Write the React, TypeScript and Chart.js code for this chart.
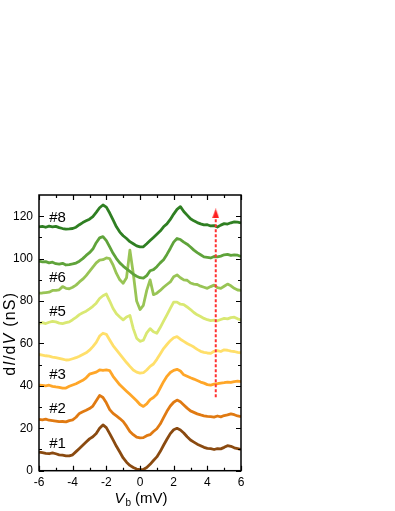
import React, { useEffect, useRef } from 'react';
import { Chart, registerables } from 'chart.js';

Chart.register(...registerables);

// Bias voltage (mV)
const biasMV = [
  -6, -5.8, -5.6, -5.4, -5.2, -5, -4.8, -4.6, -4.4, -4.2,
  -4, -3.8, -3.6, -3.4, -3.2, -3, -2.8, -2.6, -2.4, -2.2,
  -2, -1.8, -1.6, -1.4, -1.2, -1, -0.8, -0.6, -0.4, -0.2,
  0, 0.2, 0.4, 0.6, 0.8, 1, 1.2, 1.4, 1.6, 1.8,
  2, 2.2, 2.4, 2.6, 2.8, 3, 3.2, 3.4, 3.6, 3.8,
  4, 4.2, 4.4, 4.6, 4.8, 5, 5.2, 5.4, 5.6, 5.8,
  6,
];

// dI/dV (nS), curves #1..#8 (offset as in the figure)
const curve1 = [
  8.8, 8.5, 8.2, 8.0, 8.4, 8.0, 7.5, 7.3, 7.0, 7.0,
  7.5, 9.0, 10.5, 12.0, 13.5, 15.0, 16.0, 17.5, 20.0, 21.6,
  20.3, 17.5, 14.5, 11.5, 8.8, 6.0, 4.0, 2.5, 1.5, 0.8,
  0.5, 0.6, 1.5, 3.0, 4.8, 6.5, 9.0, 12.0, 14.8, 17.5,
  19.3, 20.0, 19.2, 17.8, 16.0, 14.5, 13.5, 12.5, 11.8, 11.0,
  10.5, 10.4, 10.0, 10.4, 10.3, 11.0, 11.8, 11.5, 10.8, 10.4,
  10.0,
];
const curve2 = [
  24.2, 24.0, 24.3, 23.8, 23.6, 23.4, 23.1, 23.2, 23.0, 23.6,
  24.0, 25.2, 27.0, 27.8, 28.5, 29.3, 30.5, 33.0, 35.5, 34.5,
  32.0, 28.8, 27.0, 25.8, 24.6, 23.2, 21.0, 18.5, 17.0, 15.8,
  15.5, 15.6, 16.5, 17.0, 18.5, 19.8, 22.0, 25.0, 28.0, 30.5,
  32.3, 33.3, 32.5, 31.0, 29.5, 28.2, 27.5, 26.8, 26.3, 25.9,
  25.6, 25.5, 25.3, 25.8, 25.4, 26.0, 26.3, 26.8, 26.4, 25.8,
  25.5,
];
const curve3 = [
  40.4, 40.2, 40.0, 40.3, 39.8, 39.5, 39.3, 38.9, 39.0, 39.8,
  40.4, 41.0, 41.8, 42.6, 43.8, 45.5, 46.0, 46.5, 47.5, 47.3,
  47.5, 47.2, 44.5, 42.5, 40.5, 39.0, 37.5, 36.0, 34.5, 33.0,
  31.2, 30.3, 31.5, 33.5, 34.5, 36.0, 39.0, 42.0, 44.5, 46.3,
  47.3, 47.8, 47.0, 45.2, 44.5, 43.8, 43.2, 42.5, 41.8, 41.3,
  40.6, 40.4, 40.8, 41.0, 41.3, 41.5, 41.8, 41.6, 42.0, 42.2,
  42.0,
];
const curve4 = [
  54.8, 54.5, 54.2, 54.0, 53.6, 53.3, 53.0, 52.6, 52.2, 52.3,
  52.8, 53.3, 54.0, 54.8, 55.6, 56.8, 58.5, 60.5, 63.5, 64.8,
  64.3, 61.6, 59.0, 57.0, 55.0, 53.0, 51.0, 49.2, 47.5, 46.5,
  46.0, 46.2, 47.5, 49.2, 50.3, 52.5, 55.0, 57.6, 59.5, 61.3,
  62.7, 63.2, 62.0, 61.0, 60.0, 59.2, 58.3, 57.2, 56.3, 55.8,
  55.5, 55.3, 56.3, 56.6, 56.2, 57.0, 56.8, 56.4, 56.2, 55.8,
  55.6,
];
const curve5 = [
  69.5, 69.8, 69.4, 70.0, 70.4, 70.2, 69.6, 69.4, 69.8, 70.2,
  71.2, 72.3, 73.6, 74.5, 75.2, 76.3, 77.5, 79.0, 81.2, 82.5,
  83.3, 80.0, 76.5, 74.0, 72.5, 71.1, 72.5, 73.2, 67.0, 62.5,
  61.0, 61.5, 65.0, 67.0, 65.5, 64.8, 67.5, 70.5, 73.5, 76.5,
  79.5, 79.5, 78.5, 78.3, 77.2, 76.0, 74.6, 73.5, 72.7, 71.8,
  71.2, 70.8, 71.0, 70.7, 71.3, 71.8, 71.6, 72.2, 72.4, 71.6,
  71.1,
];
const curve6 = [
  83.7, 83.8, 84.0, 84.2, 85.0, 85.0, 85.3, 86.8, 86.0, 85.8,
  86.5, 87.5, 89.0, 90.3, 92.0, 94.0, 96.0, 98.0, 99.3, 99.5,
  100.3, 100.0, 97.0, 93.0, 90.0, 88.4, 91.0, 104.0, 93.0, 80.0,
  76.0, 78.0, 85.0, 90.0, 83.0, 83.7, 85.0, 86.5, 87.8, 89.0,
  91.5, 92.3, 91.0, 90.0, 89.8, 88.5, 88.0, 87.8, 87.0, 86.5,
  86.0, 86.8, 87.5, 86.3, 86.0, 87.0, 88.0, 87.2, 86.0, 85.2,
  85.0,
];
const curve7 = [
  98.8, 98.5, 98.6, 98.0, 98.3, 97.6, 97.4, 97.8, 97.0, 97.2,
  97.5, 97.9, 98.8, 100.0, 101.5, 102.8, 104.5, 107.5, 109.8, 110.4,
  108.5, 105.5, 102.5, 100.0, 98.0, 96.5, 95.2, 94.0, 92.7, 91.7,
  91.0, 90.8, 92.0, 94.3, 94.8, 96.2, 98.0, 99.5, 102.0, 104.8,
  107.8, 109.5, 109.0, 107.8, 106.8, 105.5, 104.0, 102.8, 101.8, 100.8,
  100.6, 100.3, 101.0, 100.8, 101.2, 101.8, 102.0, 101.5, 101.8, 101.6,
  101.0,
];
const curve8 = [
  115.0, 115.2, 114.8, 115.3, 115.0, 115.2, 114.6, 114.2, 113.9, 114.0,
  114.2, 114.8, 116.0, 117.0, 117.8, 118.6, 119.8, 121.8, 124.0, 125.3,
  124.3, 121.5, 118.3, 115.0, 112.5, 110.8, 109.5, 108.0, 107.0, 106.0,
  105.5, 105.6, 107.0, 108.5, 110.0, 111.5, 113.0, 115.0, 116.4, 118.5,
  121.0, 123.2, 124.5, 122.2, 120.5, 118.8, 117.8, 117.0, 116.4, 115.9,
  116.0, 115.4, 115.6, 114.9, 115.8, 116.5, 116.3, 116.9, 117.3, 117.2,
  116.8,
];

const curves = [curve1, curve2, curve3, curve4, curve5, curve6, curve7, curve8];
const curveColors = ['#8a4a10', '#e07a12', '#ffa628', '#ffdf6a', '#d9e872', '#98c455', '#5fa33a', '#2f7f22'];

// Curve labels
const labelTexts = ['#1', '#2', '#3', '#5', '#6', '#8'];
const labelYs = [12.6, 29.1, 45.3, 74.9, 90.7, 119.2];
const labelX = -4.9;

// Ticks
const xMajorTicks = [-6, -4, -2, 0, 2, 4, 6];
const xMinorTicks = [-5, -3, -1, 1, 3, 5];
const yMajorTicks = [0, 20, 40, 60, 80, 100, 120];
const yMinorTicks = [10, 30, 50, 70, 90, 110];

// Red marker at 4.5 mV
const markerX = [4.5, 4.5];
const markerY = [34.6, 119.3];
const arrowHead = { x: 4.5, y: 121.3 };

const FONT = '"Liberation Sans", Arial, sans-serif';

const decorPlugin = {
  id: 'decor',
  afterDatasetsDraw(chart: any) {
    const { ctx, chartArea: a, scales } = chart;
    const xs = scales.x;
    const ys = scales.y;
    ctx.save();
    ctx.strokeStyle = '#000';
    ctx.lineWidth = 1.5;
    ctx.strokeRect(a.left, a.top, a.right - a.left, a.bottom - a.top);
    ctx.lineWidth = 1.2;
    const drawX = (v: number, len: number) => {
      const px = Math.round(xs.getPixelForValue(v)) + 0.5;
      ctx.beginPath();
      ctx.moveTo(px, a.bottom);
      ctx.lineTo(px, a.bottom - len);
      ctx.moveTo(px, a.top);
      ctx.lineTo(px, a.top + len);
      ctx.stroke();
    };
    const drawY = (v: number, len: number) => {
      const py = Math.round(ys.getPixelForValue(v)) + 0.5;
      ctx.beginPath();
      ctx.moveTo(a.left, py);
      ctx.lineTo(a.left + len, py);
      ctx.moveTo(a.right, py);
      ctx.lineTo(a.right - len, py);
      ctx.stroke();
    };
    xMajorTicks.forEach((v) => drawX(v, 5));
    xMinorTicks.forEach((v) => drawX(v, 3));
    yMajorTicks.forEach((v) => drawY(v, 5));
    yMinorTicks.forEach((v) => drawY(v, 3));

    // curve labels
    ctx.fillStyle = '#000';
    ctx.font = `15px ${FONT}`;
    ctx.textAlign = 'center';
    ctx.textBaseline = 'middle';
    labelTexts.forEach((t, i) => {
      ctx.fillText(t, xs.getPixelForValue(labelX), ys.getPixelForValue(labelYs[i]));
    });

    // y axis title (rotated)
    const ySize = 16;
    const yParts = [
      { t: 'd', f: `${ySize}px ${FONT}` },
      { t: 'I', f: `italic ${ySize}px ${FONT}` },
      { t: '/d', f: `${ySize}px ${FONT}` },
      { t: 'V', f: `italic ${ySize}px ${FONT}` },
      { t: ' (nS)', f: `${ySize}px ${FONT}` },
    ];
    ctx.save();
    (ctx as any).letterSpacing = '1.2px';
    let total = 0;
    yParts.forEach((p) => { ctx.font = p.f; total += ctx.measureText(p.t).width; });
    ctx.translate(15, (a.top + a.bottom) / 2 + 1);
    ctx.rotate(-Math.PI / 2);
    ctx.textAlign = 'left';
    ctx.textBaseline = 'alphabetic';
    let cx = -total / 2;
    yParts.forEach((p) => { ctx.font = p.f; ctx.fillText(p.t, cx, 0); cx += ctx.measureText(p.t).width; });
    ctx.restore();

    // x axis title
    ctx.textAlign = 'left';
    ctx.textBaseline = 'alphabetic';
    const base = 503;
    ctx.font = `italic 15px ${FONT}`;
    const wV = ctx.measureText('V').width;
    ctx.font = `10px ${FONT}`;
    const wb = ctx.measureText('b').width;
    ctx.font = `15px ${FONT}`;
    const wRest = ctx.measureText(' (mV)').width;
    const tot = wV + wb + 1 + wRest;
    let sx = (a.left + a.right) / 2 + 1 - tot / 2;
    ctx.font = `italic 15px ${FONT}`;
    ctx.fillText('V', sx, base);
    sx += wV + 1;
    ctx.font = `10px ${FONT}`;
    ctx.fillText('b', sx, base + 3);
    sx += wb;
    ctx.font = `15px ${FONT}`;
    ctx.fillText(' (mV)', sx, base);
    ctx.restore();
  },
};

export default function App() {
  const ref = useRef<HTMLCanvasElement | null>(null);
  useEffect(() => {
    if (!ref.current) return;
    const head = document.createElement('canvas');
    head.width = 7;
    head.height = 10;
    const hc = head.getContext('2d')!;
    hc.fillStyle = '#ff2020';
    hc.beginPath();
    hc.moveTo(3.5, 0);
    hc.lineTo(7, 10);
    hc.lineTo(0, 10);
    hc.closePath();
    hc.fill();

    const datasets: any[] = [
      {
        data: markerX.map((x, i) => ({ x, y: markerY[i] })),
        borderColor: '#ff3030',
        borderWidth: 2,
        borderDash: [3, 2],
        pointRadius: 0,
        order: 0,
      },
      {
        data: [arrowHead],
        showLine: false,
        pointStyle: head,
        pointRadius: 5,
        order: 0,
      },
    ];
    curves.forEach((c, k) => {
      datasets.push({
        data: biasMV.map((x, i) => ({ x, y: c[i] })),
        borderColor: curveColors[k],
        borderWidth: 2.8,
        borderJoinStyle: 'round',
        pointRadius: 0,
        tension: 0,
        order: 1 + (7 - k),
      });
    });

    const chart = new Chart(ref.current, {
      type: 'line',
      data: { datasets },
      plugins: [decorPlugin],
      options: {
        animation: false,
        responsive: true,
        maintainAspectRatio: false,
        layout: { padding: { left: 0, top: 195, right: 154, bottom: 0 } },
        plugins: { legend: { display: false }, tooltip: { enabled: false } },
        scales: {
          x: {
            type: 'linear',
            min: -6,
            max: 6,
            grid: { display: false, drawTicks: false },
            border: { display: false },
            afterBuildTicks: (s: any) => { s.ticks = xMajorTicks.map((v) => ({ value: v })); },
            afterFit: (s: any) => { s.height = 40.3; },
            ticks: { color: '#000', padding: 5, font: { size: 12, family: FONT }, maxRotation: 0 },
          },
          y: {
            type: 'linear',
            min: 0,
            max: 130,
            grid: { display: false, drawTicks: false },
            border: { display: false },
            afterBuildTicks: (s: any) => { s.ticks = yMajorTicks.map((v) => ({ value: v })); },
            afterFit: (s: any) => { s.width = 39; },
            ticks: { color: '#000', padding: 6, font: { size: 12, family: FONT } },
          },
        },
      },
    });
    return () => chart.destroy();
  }, []);
  return (
    <div style={{ position: 'absolute', left: 0, top: 0, width: 395, height: 511 }}>
      <canvas ref={ref} />
    </div>
  );
}
